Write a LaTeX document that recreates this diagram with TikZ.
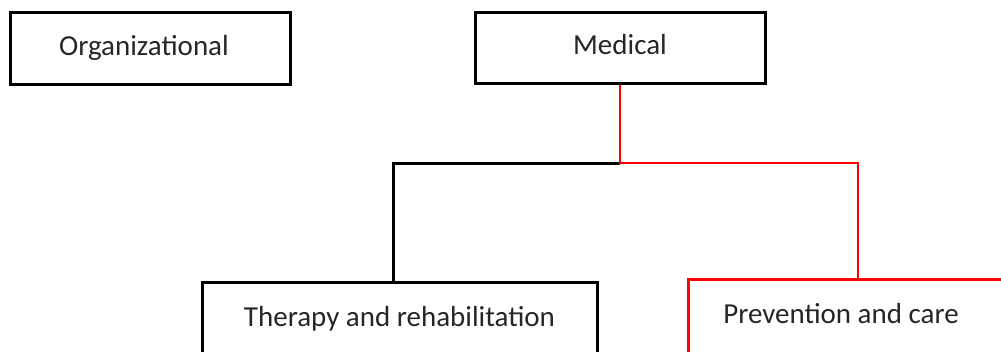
\documentclass[tikz,border=0pt]{standalone}
\usepackage{fontspec}
\setmainfont{Carlito}
\begin{document}
\begin{tikzpicture}[x=1pt,y=-1pt,
  every node/.style={font=\fontsize{29}{34}\selectfont, text=black!85},
  box/.style={draw=black, line width=3pt, rectangle, inner sep=0pt},
  topbox/.style={box, text height=20pt, text depth=6pt},
  lowbox/.style={box, anchor=north, minimum height=80pt, text height=20pt, text depth=12pt},
  conn/.style={draw=black, line width=3pt},
  redconn/.style={draw=red, line width=2.8pt}]
\useasboundingbox (0,0) rectangle (1001,351);
\clip (0,0) rectangle (1001,351);

% upper row
\node[topbox, minimum width=280pt, minimum height=72pt] (org) at (150,48)
  {\hspace*{-12pt}Organizational};
\node[topbox, minimum width=290pt, minimum height=71pt] (med) at (620,47.5) {Medical};

% lower row
\node[lowbox, minimum width=395pt] (ther) at (399.5,281) {Therapy and rehabilitation};
\node[lowbox, draw=red, minimum width=340pt,
      label={[text height=20pt, text depth=12pt, anchor=center]center:\hspace*{-34pt}Prevention and care}]
      (prev) at (858,278) {};

% junction points
\coordinate (hub) at (620,163);
\coordinate (tin) at ([xshift=-6.5pt]ther.north);
\coordinate (pin) at (prev.north);

% branches
\draw[conn] (hub) -- (tin |- hub) -- (tin);
\draw[redconn] (med.south) -- (hub) -- (pin |- hub) -- (pin);
\end{tikzpicture}
\end{document}
